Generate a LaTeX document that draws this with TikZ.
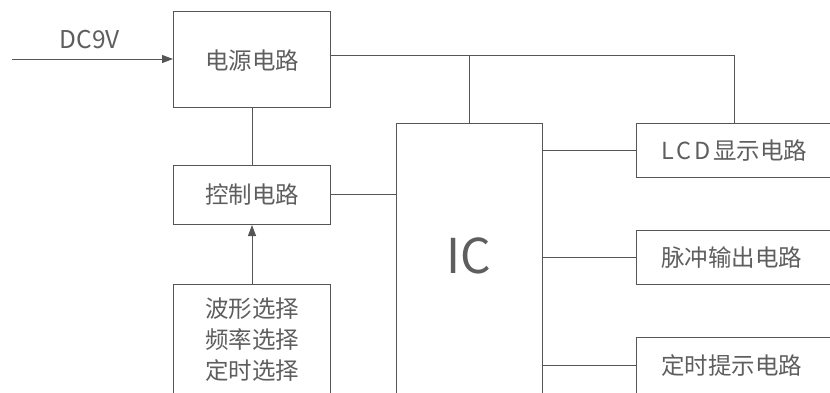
\documentclass[tikz,border=0pt]{standalone}
\usepackage{fontspec}
\setmainfont{Noto Sans CJK SC}
\usetikzlibrary{arrows.meta}
\definecolor{ln}{HTML}{555555}
\definecolor{tx}{HTML}{5E5E5E}
\tikzset{
  box/.style={draw=ln, line width=1pt, fill=none, inner sep=0pt},
  txt/.style={text=tx, font=\fontsize{23.5}{32}\selectfont, inner sep=0pt},
  wire/.style={draw=ln, line width=1pt},
  arr/.style={wire, -{Triangle[length=11pt,width=8pt]}},
}
\begin{document}
\begin{tikzpicture}[x=1pt,y=-1pt]
\useasboundingbox (0,0) rectangle (830,392);
\clip (0,0) rectangle (830,392);
% boxes
\node[box, minimum width=157pt, minimum height=96pt, anchor=north west] (power) at (173,11) {};
\node[txt] (powert) at (252,61) {电源电路};
\node[box, minimum width=157pt, minimum height=59pt, anchor=north west] (ctrl) at (173,165) {};
\node[txt] (ctrlt) at (252,195) {控制电路};
\node[box, minimum width=157pt, minimum height=130pt, anchor=north west] (sel) at (173,284) {};
\node[txt, align=center] (selt) at (252,340) {波形选择\\[-1pt]频率选择\\[-1pt]定时选择};
\node[box, minimum width=146pt, minimum height=290pt, anchor=north west] (ic) at (396,123) {};
\node[txt, font=\fontsize{48}{50}\selectfont] (ict) at (469,256) {IC};
\node[box, minimum width=240pt, minimum height=54pt, anchor=north west] (lcd) at (636,123) {};
\node[txt, anchor=west] (lcdt) at (661,151) {L\kern3pt C\kern3pt D\kern2pt 显示电路};
\node[box, minimum width=240pt, minimum height=54pt, anchor=north west] (pulse) at (636,230) {};
\node[txt, anchor=west] (pulset) at (661,258) {脉冲输出电路};
\node[box, minimum width=240pt, minimum height=60pt, anchor=north west] (timer) at (636,337) {};
\node[txt, anchor=west] (timert) at (661,366) {定时提示电路};
% input
\coordinate (dcin) at (12,59);
\draw[arr] (dcin) -- (dcin -| power.west);
\node[txt, font=\fontsize{24.5}{30}\selectfont] (dct) at (90,40) {DC9V};
% connections
\draw[wire] (power.south) -- (ctrl.north);
\draw[arr] (sel.north) -- (ctrl.south);
\coordinate (cy) at (0,194);
\draw[wire] (cy -| ctrl.east) -- (cy -| ic.west);
\coordinate (j1) at (469,55);
\coordinate (j2) at (734,55);
\draw[wire] (j1 -| power.east) -- (j2) -- (j2 |- lcd.north);
\draw[wire] (j1) -- (j1 |- ic.north);
\coordinate (y1) at (0,150);
\coordinate (y2) at (0,257);
\coordinate (y3) at (0,365);
\draw[wire] (y1 -| ic.east) -- (y1 -| lcd.west);
\draw[wire] (y2 -| ic.east) -- (y2 -| pulse.west);
\draw[wire] (y3 -| ic.east) -- (y3 -| timer.west);
\end{tikzpicture}
\end{document}
